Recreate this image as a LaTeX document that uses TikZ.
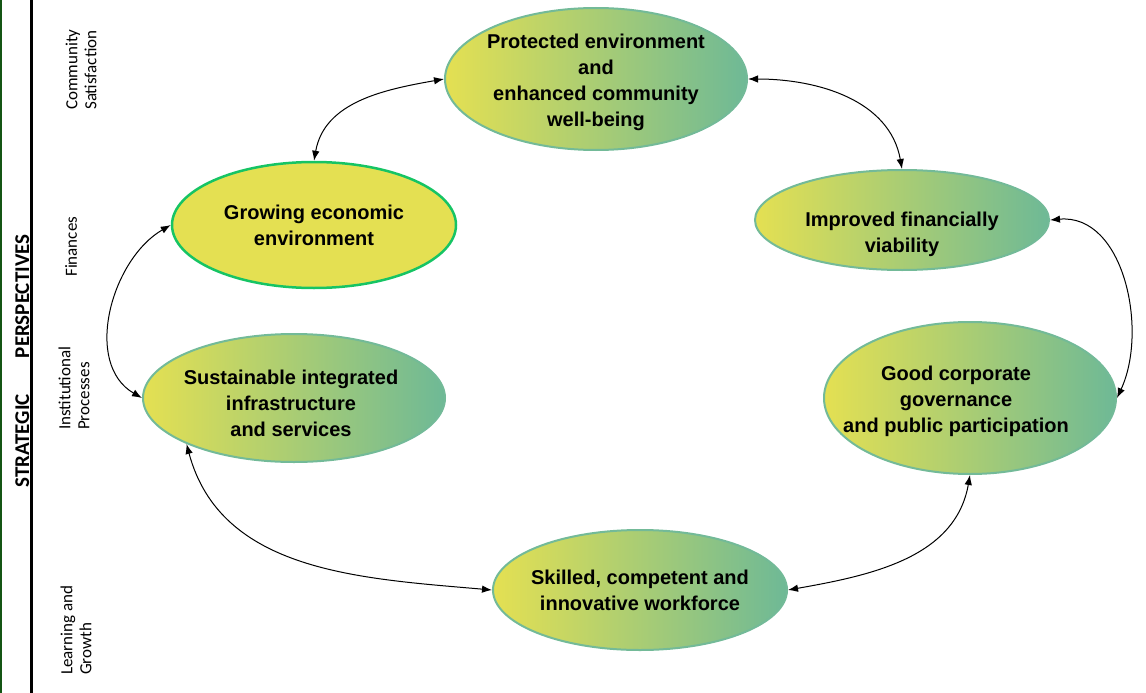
\documentclass[tikz,border=0pt]{standalone}
\usepackage{fontspec}
\setmainfont{Liberation Sans}
\newfontfamily\sidefont{Carlito}
\usetikzlibrary{shapes.geometric,arrows.meta}

\definecolor{goalyellow}{RGB}{228,224,82}
\definecolor{goalgreen}{RGB}{110,185,150}
\definecolor{goalrim}{RGB}{115,186,152}
\definecolor{rimgreen}{RGB}{22,196,100}
\definecolor{bandgreen}{RGB}{20,85,20}

\begin{document}
\begin{tikzpicture}[x=1pt,y=1pt,
  goal/.style={ellipse, draw=goalrim, line width=2pt, left color=goalyellow, right color=goalgreen,
               inner xsep=-16pt, inner ysep=0pt, align=center, font=\bfseries\fontsize{20}{26}\selectfont},
  goaltext/.style={align=center, font=\bfseries\fontsize{20}{26}\selectfont},
  link/.style={{Latex[length=10pt,width=7.5pt]}-{Latex[length=10pt,width=7.5pt]}, line width=1pt},
  side/.style={rotate=90, anchor=west, inner sep=0pt, align=left, font=\sidefont\fontsize{17}{19}\selectfont}]
\useasboundingbox (0,0) rectangle (1146,-693);

% left band
\draw[bandgreen, line width=2pt] (1,0) -- (1,-693);
\draw[black, line width=3pt] (31,0) -- (31,-693);
\node[rotate=90, anchor=base, inner sep=0pt, font=\sidefont\bfseries\fontsize{21}{24}\selectfont]
      (title) at (29,-361) {STRATEGIC\hspace{36pt}PERSPECTIVES};

\node[side] (community) at (81,-110) {Community\\Satisfaction};
\node[side] (finance) at (71,-277) {Finances};
\node[side] (process) at (74,-430) {Institutional\\Processes};
\node[side] (learn) at (76,-675) {Learning and\\Growth};

% objectives
\node[goal, minimum width=302pt, minimum height=142pt,
      label={[goaltext, yshift=-3pt]center:Protected environment\\and\\enhanced community\\well-being}] (protect) at (596,-79) {};
\node[goal, draw=rimgreen, line width=2.5pt, left color=goalyellow, right color=goalyellow,
      minimum width=284pt, minimum height=126pt] (grow) at (314,-225)
      {Growing economic\\environment};
\node[goal, minimum width=294pt, minimum height=100pt,
      label={[goaltext, yshift=-14pt]center:Improved financially\\viability}] (improve) at (902,-220) {};
\node[goal, minimum width=302pt, minimum height=128pt,
      label={[goaltext, yshift=-5pt, xshift=-3pt]center:Sustainable integrated\\infrastructure\\and services}] (sust) at (294,-398) {};
\node[goal, minimum width=292pt, minimum height=152pt,
      label={[goaltext, xshift=-14pt, yshift=-3pt]center:Good corporate\\governance\\and public participation}] (govern) at (970,-398) {};
\node[goal, minimum width=294pt, minimum height=120pt] (skill) at (640,-590)
      {Skilled, competent and\\innovative workforce};

% links
\draw[link] (grow.north) to[out=80, in=190] (protect.west);
\draw[link] (protect.east) to[out=0, in=100] (improve.north);
\draw[link] (improve.east) to[out=5, in=65] (govern.east);
\draw[link] (govern.south) to[out=-100, in=10] (skill.east);
\draw[link] (skill.west) to[out=175, in=-75] (sust.south west);
\draw[link] (grow.west) to[out=210, in=150] (sust.west);

\end{tikzpicture}
\end{document}
